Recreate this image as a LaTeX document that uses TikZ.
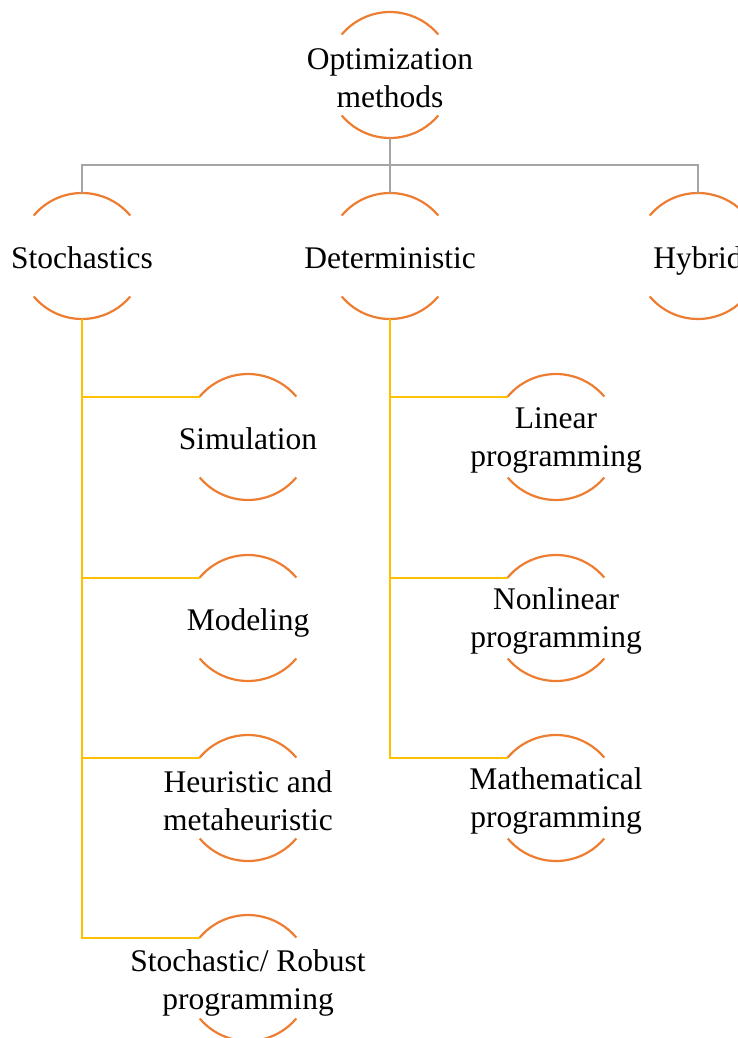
\documentclass[tikz,border=0pt]{standalone}
\usepackage{fontspec}
\setmainfont{Liberation Serif}
\definecolor{arcorange}{HTML}{ED7D31}
\definecolor{linkgray}{HTML}{A5A5A5}
\definecolor{linkyellow}{HTML}{FFC000}
\begin{document}
\begin{tikzpicture}[x=1pt,y=1pt,
  ring/.style={circle, minimum size=126pt, inner sep=0pt, outer sep=0pt},
  txt/.style={align=center, inner sep=0pt, font=\fontsize{31.5}{38}\selectfont},
  onetxt/.style={txt, anchor=base},
  arcline/.style={draw=arcorange, line width=2.2pt},
  graylink/.style={draw=linkgray, line width=2pt},
  yellowlink/.style={draw=linkyellow, line width=2pt}]
\useasboundingbox (0,0) rectangle (738,-1038);
\clip (0,0) rectangle (738,-1038);
% ring nodes
\node[ring] (top) at (390,-75) {};
\node[ring] (sto) at (82,-256) {};
\node[ring] (det) at (390,-256) {};
\node[ring] (hyb) at (698,-256) {};
\node[ring] (sim) at (248,-437) {};
\node[ring] (mod) at (248,-618) {};
\node[ring] (heu) at (248,-798) {};
\node[ring] (rob) at (248,-978) {};
\node[ring] (lin) at (556,-437) {};
\node[ring] (non) at (556,-618) {};
\node[ring] (mat) at (556,-798) {};
% arcs
\foreach \n in {top,sto,det,hyb,sim,mod,heu,rob,lin,non,mat}{
  \draw[arcline] (\n.140) arc[start angle=140, end angle=40, radius=63];
  \draw[arcline] (\n.220) arc[start angle=220, end angle=320, radius=63];
}
% texts
\node[txt] (top-t) at ([yshift=-3pt]top.center) {Optimization\\methods};
\node[onetxt] (sto-t) at ([yshift=-12pt]sto.center) {Stochastics};
\node[onetxt] (det-t) at ([yshift=-12pt]det.center) {Deterministic};
\node[onetxt] (hyb-t) at ([yshift=-12pt]hyb.center) {Hybrid};
\node[onetxt] (sim-t) at ([yshift=-12pt]sim.center) {Simulation};
\node[onetxt] (mod-t) at ([yshift=-12pt]mod.center) {Modeling};
\node[txt] (heu-t) at ([yshift=-3pt]heu.center) {Heuristic and\\metaheuristic};
\node[txt] (rob-t) at ([yshift=-5pt]rob.center) {Stochastic/ Robust\\programming};
\node[txt] (lin-t) at ([yshift=-3pt]lin.center) {Linear\\programming};
\node[txt] (non-t) at ([yshift=-3pt]non.center) {Nonlinear\\programming};
\node[txt] (mat-t) at ([yshift=-3pt]mat.center) {Mathematical\\programming};
% gray links
\coordinate (bus) at (390,-165);
\draw[graylink] (top.south) -- (bus);
\draw[graylink] (bus) -| (sto.north);
\draw[graylink] (bus) -| (hyb.north);
\draw[graylink] (bus) -- (det.north);
% yellow links
\draw[yellowlink] (sto.south) |- (rob.140);
\foreach \n in {sim,mod,heu}{\draw[yellowlink] (sto.south |- \n.140) -- (\n.140);}
\draw[yellowlink] (det.south) |- (mat.140);
\foreach \n in {lin,non}{\draw[yellowlink] (det.south |- \n.140) -- (\n.140);}
\end{tikzpicture}
\end{document}
